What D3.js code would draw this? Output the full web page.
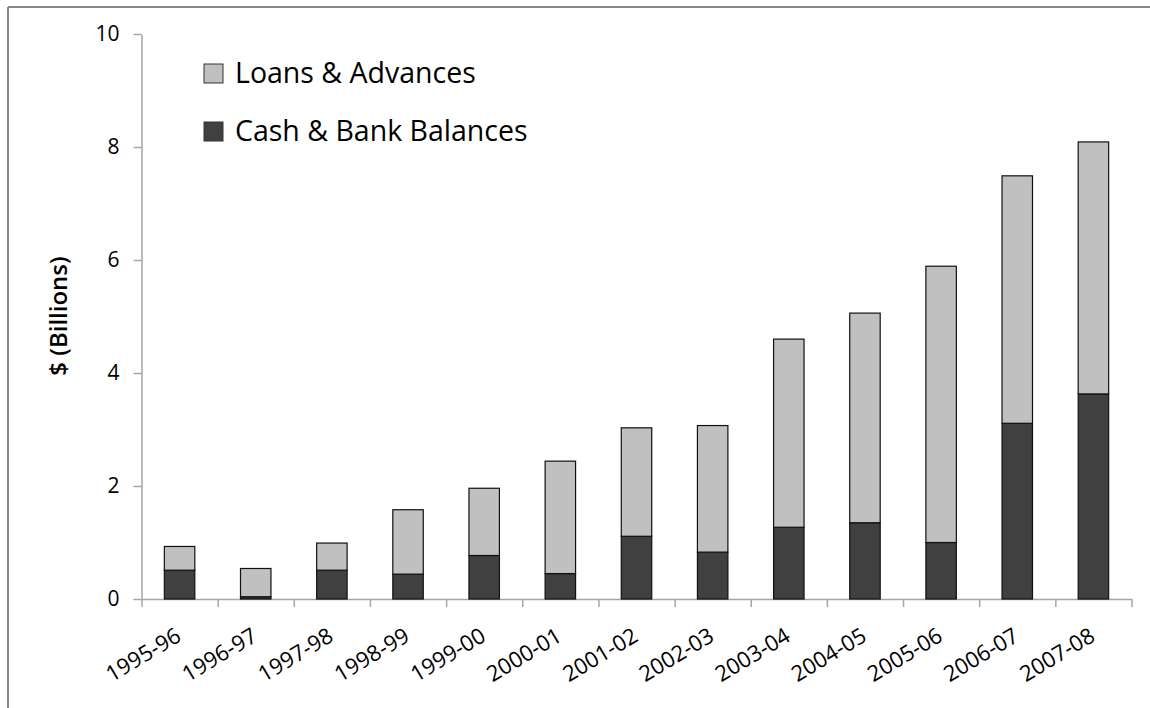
<!DOCTYPE html>
<html>
<head>
<meta charset="utf-8">
<script src="https://cdn.jsdelivr.net/npm/d3@7"></script>
<style>
  body { margin: 0; background: #fff; }
  text { font-family: "Open Sans", sans-serif; fill: #000; }
</style>
</head>
<body>
<div id="graph"></div>
<script>
var categories = ['1995-96', '1996-97', '1997-98', '1998-99', '1999-00', '2000-01', '2001-02',
  '2002-03', '2003-04', '2004-05', '2005-06', '2006-07', '2007-08'];
var cashBank = [0.51, 0.04, 0.51, 0.44, 0.77, 0.45, 1.11, 0.83, 1.27, 1.35, 1.00, 3.11, 3.63];
var loansAdv = [0.42, 0.50, 0.48, 1.14, 1.19, 1.99, 1.92, 2.24, 3.33, 3.71, 4.89, 4.38, 4.46];
var seriesNames = ['Cash & Bank Balances', 'Loans & Advances'];
var yTicks = [0, 2, 4, 6, 8, 10];

var width = 1150;
var height = 708;
var plotLeft = 141.5, plotRight = 1131.5, plotTop = 34, plotBottom = 599;

var colors = { 'Cash & Bank Balances': '#404040', 'Loans & Advances': '#c0c0c0' };

var svg = d3.select('#graph')
  .append('svg')
  .attr('width', width)
  .attr('height', height);

// outer frame (only top and left edges are in view)
svg.append('line').attr('x1', 8).attr('x2', width).attr('y1', 7).attr('y2', 7)
  .attr('stroke', '#888').attr('stroke-width', 2);
svg.append('line').attr('x1', 8).attr('x2', 8).attr('y1', 7).attr('y2', height)
  .attr('stroke', '#888').attr('stroke-width', 2);

var x = d3.scaleBand()
  .domain(categories)
  .range([plotLeft, plotRight])
  .paddingInner(0.6)
  .paddingOuter(0.3);

var y = d3.scaleLinear()
  .domain([0, 10])
  .range([plotBottom, plotTop]);

var rows = categories.map(function(c, i) {
  return { cat: c, 'Cash & Bank Balances': cashBank[i], 'Loans & Advances': loansAdv[i] };
});

var stack = d3.stack().keys(seriesNames);
var layers = stack(rows);

// y axis
var yAxis = svg.append('g')
  .attr('transform', 'translate(' + plotLeft + ',0)')
  .call(d3.axisLeft(y).tickValues(yTicks).tickSize(8).tickSizeOuter(0).tickPadding(14));
yAxis.select('.domain').attr('stroke', '#a6a6a6').attr('stroke-width', 1.5);
yAxis.selectAll('.tick line').attr('stroke', '#a6a6a6').attr('stroke-width', 1.5);
yAxis.selectAll('.tick text').style('font-size', '21px').attr('fill', '#000');

// x axis: ticks sit on the category boundaries
var xb = d3.scaleLinear().domain([0, categories.length]).range([plotLeft, plotRight]);
var xAxis = svg.append('g')
  .attr('transform', 'translate(0,' + plotBottom + ')')
  .call(d3.axisBottom(xb).tickValues(d3.range(categories.length + 1)).tickFormat('').tickSize(8).tickSizeOuter(0));
xAxis.select('.domain').attr('stroke', '#a6a6a6').attr('stroke-width', 1.5);
xAxis.selectAll('.tick line').attr('stroke', '#a6a6a6').attr('stroke-width', 1.5);

// category labels, rotated
svg.append('g').selectAll('text')
  .data(categories)
  .enter()
  .append('text')
  .attr('text-anchor', 'end')
  .style('font-size', '22px')
  .attr('transform', function(d) {
    return 'translate(' + (x(d) + x.bandwidth() / 2 + 3) + ',' + (plotBottom + 41) + ') rotate(-31)';
  })
  .text(function(d) { return d; });

// bars
svg.append('g').selectAll('g')
  .data(layers)
  .enter()
  .append('g')
  .attr('fill', function(d) { return colors[d.key]; })
  .selectAll('rect')
  .data(function(d) { return d; })
  .enter()
  .append('rect')
  .attr('x', function(d) { return x(d.data.cat); })
  .attr('width', x.bandwidth())
  .attr('y', function(d) { return y(d[1]); })
  .attr('height', function(d) { return y(d[0]) - y(d[1]); })
  .attr('stroke', '#111')
  .attr('stroke-width', 1.2);

// y title
svg.append('text')
  .attr('transform', 'translate(67,316) rotate(-90)')
  .attr('text-anchor', 'middle')
  .style('font-size', '24px')
  .style('font-weight', '600')
  .text('$ (Billions)');

// legend
var legendItems = ['Loans & Advances', 'Cash & Bank Balances'];
var legend = svg.append('g').selectAll('g')
  .data(legendItems)
  .enter()
  .append('g')
  .attr('transform', function(d, i) { return 'translate(204,' + (64 + i * 58) + ')'; });
legend.append('rect')
  .attr('width', 19).attr('height', 19)
  .attr('fill', function(d) { return colors[d]; })
  .attr('stroke', '#333').attr('stroke-width', 1);
legend.append('text')
  .attr('x', 31).attr('y', 19)
  .style('font-size', '28.5px')
  .text(function(d) { return d; });
</script>
</body>
</html>
